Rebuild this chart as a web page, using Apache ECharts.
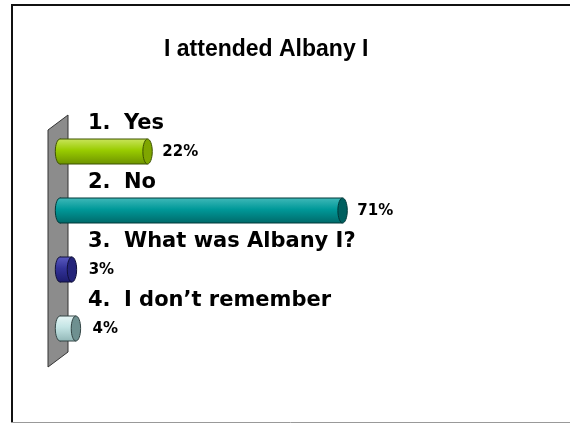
<!DOCTYPE html>
<html><head><meta charset="utf-8">
<script src="https://cdn.jsdelivr.net/npm/echarts@6/dist/echarts.min.js"></script>
<style>html,body{margin:0;padding:0;background:#fff}#c{width:570px;height:424px}</style>
</head><body><div id="c"></div>
<script>
const titleText = 'I attended Albany I';
const numbers = ['1.', '2.', '3.', '4.'];
const categories = ['Yes', 'No', 'What was Albany I?', 'I don\u2019t remember'];
const values = [22, 71, 3, 4];
const valueLabels = ['22%', '71%', '3%', '4%'];
const palettes = [
  {top:'#c9e45a', mid:'#99cc00', bot:'#6e9400', cap:'#7fa600', line:'#3d5200'},
  {top:'#3fb8b8', mid:'#009999', bot:'#006a6a', cap:'#006060', line:'#003838'},
  {top:'#5a5ac0', mid:'#333399', bot:'#1c1c6e', cap:'#24247a', line:'#10103a'},
  {top:'#e6f6f6', mid:'#c3e4e4', bot:'#93b8b8', cap:'#6e9090', line:'#334545'}
];
const chart = echarts.init(document.getElementById('c'));
function renderItem(params, api){
  const i = api.value(0), v = api.value(1);
  const p0 = api.coord([0, i]);
  const p1 = api.coord([v, i]);
  const c = p0[1], h = 25, rx = 4.7;
  const pal = palettes[i];
  const grad = new echarts.graphic.LinearGradient(0,0,0,1,[
    {offset:0, color:pal.top},{offset:0.45, color:pal.mid},{offset:1, color:pal.bot}]);
  return {type:'group', children:[
    {type:'ellipse', shape:{cx:p0[0], cy:c, rx:rx, ry:h/2}, style:{fill:grad, stroke:pal.line, lineWidth:1}},
    {type:'rect', shape:{x:p0[0], y:c-h/2, width:p1[0]-p0[0], height:h}, style:{fill:grad, stroke:null}},
    {type:'line', shape:{x1:p0[0], y1:c-h/2, x2:p1[0], y2:c-h/2}, style:{stroke:pal.line, lineWidth:1}},
    {type:'line', shape:{x1:p0[0], y1:c+h/2, x2:p1[0], y2:c+h/2}, style:{stroke:pal.line, lineWidth:1}},
    {type:'ellipse', shape:{cx:p1[0], cy:c, rx:rx, ry:h/2}, style:{fill:pal.cap, stroke:pal.line, lineWidth:1}},
    {type:'text', style:{x:p1[0]+rx+(v<10?12:10), y:c+1, text:valueLabels[i], fill:'#000',
      font:'bold 15px "DejaVu Sans"', textVerticalAlign:'middle', textAlign:'left'}},
    {type:'text', style:{x:p0[0]+28, y:c-28, text:numbers[i], fill:'#000',
      font:'bold 21px "DejaVu Sans"', textVerticalAlign:'middle', textAlign:'left'}},
    {type:'text', style:{x:p0[0]+64, y:c-28, text:categories[i], fill:'#000',
      font:'bold 21px "DejaVu Sans"', textVerticalAlign:'middle', textAlign:'left'}}
  ]};
}
chart.setOption({
  animation:false,
  title:{text:titleText, left:159, top:33, textStyle:{fontFamily:'"Liberation Sans"', fontSize:23, fontWeight:'bold', color:'#000'}},
  grid:{left:60, right:112, top:122, height:236},
  xAxis:{type:'value', min:0, max:100, show:false},
  yAxis:{type:'category', data:categories, inverse:true, show:false},
  graphic:[
    {type:'line', shape:{x1:12, y1:5, x2:570, y2:5}, style:{stroke:'#111', lineWidth:2}, z:-1},
    {type:'line', shape:{x1:12, y1:4, x2:12, y2:422}, style:{stroke:'#111', lineWidth:2}, z:-1},
    {type:'line', shape:{x1:11, y1:422.5, x2:570, y2:422.5}, style:{stroke:'#999', lineWidth:1}, z:-1},
    {type:'polygon', shape:{points:[[48,130],[68,115],[68,352],[48,367]]}, style:{fill:'#8c8c8c', stroke:'#333', lineWidth:1}, z:-1}
  ],
  series:[{type:'custom', renderItem:renderItem, encode:{x:1, y:0},
    data: values.map((v,i)=>[i, v]), clip:false}]
});
</script></body></html>
